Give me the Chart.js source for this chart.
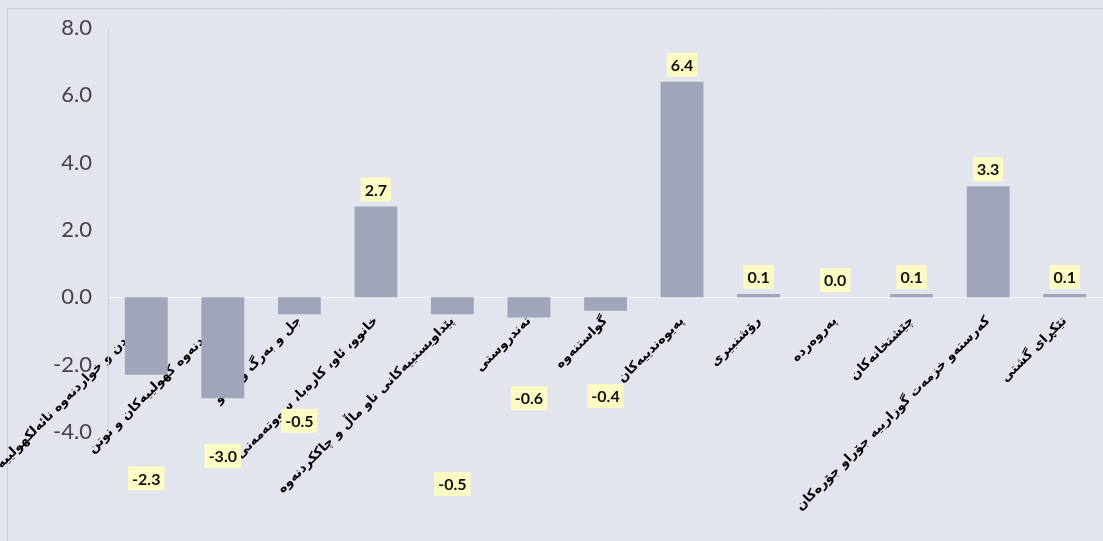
<!DOCTYPE html>
<html>
<head>
<meta charset="utf-8">
<script src="https://cdn.jsdelivr.net/npm/chart.js@4"></script>
<style>
  body { margin: 0; background: #e2e5ed; }
  #wrap { width: 1103px; height: 541px; }
</style>
</head>
<body>
<div id="wrap"><canvas id="grafico" width="1103" height="541"></canvas></div>
<script>
const categorias = [
  'خواردن و خواردنەوە نائەلکهولییەکان',
  'خواردنەوە کهولییەکان و توتن',
  'جل و بەرگ و پێلاو',
  'خانوو، ئاو، کارەبا، سووتەمەنی',
  'پێداویستییەکانی ناو ماڵ و چاککردنەوە',
  'تەندروستی',
  'گواستنەوە',
  'پەیوەندییەکان',
  'رۆشنبیری',
  'پەروەردە',
  'چێشتخانەکان',
  'کەرستەو خزمەت گوزارییە جۆراو جۆرەکان',
  'تێکڕای گشتی'
];
const valores = [-2.3, -3.0, -0.5, 2.7, -0.5, -0.6, -0.4, 6.4, 0.1, 0.0, 0.1, 3.3, 0.1];
const ejeY = { min: -4, max: 8, paso: 2 };

const fuenteCat = "bold 13px 'DejaVu Sans', sans-serif";
const fuenteVal = "bold 16px Lato, 'Liberation Sans', sans-serif";

const fondo = {
  id: 'fondo',
  beforeDraw(chart) {
    const c = chart.ctx;
    c.save();
    c.fillStyle = '#e2e5ed';
    c.fillRect(0, 0, chart.width, chart.height);
    c.strokeStyle = '#c9cdd7';
    c.lineWidth = 1;
    c.beginPath();
    c.moveTo(7.5, chart.height);
    c.lineTo(7.5, 8.5);
    c.lineTo(chart.width, 8.5);
    c.stroke();
    c.restore();
  }
};

// etiquetas de valor con fondo amarillo
const etiquetas = {
  id: 'etiquetas',
  afterDraw(chart) {
    const c = chart.ctx;
    const meta = chart.getDatasetMeta(0);
    const y0 = chart.scales.y.getPixelForValue(0);
    c.save();
    meta.data.forEach((bar, i) => {
      const v = valores[i];
      const txt = v.toFixed(1);
      let y;
      if (v >= 0) {
        y = bar.y - 17;
      } else {
        // debajo del texto girado de la categoria
        c.font = fuenteCat;
        const w = c.measureText(categorias[i]).width;
        y = Math.min(y0 + 65 + w * 0.5, chart.height - 22);
      }
      c.font = fuenteVal;
      const tw = c.measureText(txt).width;
      c.fillStyle = '#fdfbc4';
      c.fillRect(bar.x - tw / 2 - 4, y - 12, tw + 8, 24);
      c.fillStyle = '#111';
      c.textAlign = 'center';
      c.textBaseline = 'middle';
      c.fillText(txt, bar.x, y + 1);
    });
    c.restore();
  }
};

new Chart(document.getElementById('grafico'), {
  type: 'bar',
  data: {
    labels: categorias,
    datasets: [{
      data: valores,
      backgroundColor: '#a1a5b9',
      barPercentage: 0.56,
      categoryPercentage: 1.0
    }]
  },
  options: {
    responsive: false,
    animation: false,
    layout: { padding: { top: 28, bottom: 109, left: 8, right: 0 } },
    plugins: { legend: { display: false }, tooltip: { enabled: false } },
    scales: {
      x: {
        position: { y: 0 },
        grid: { display: false },
        border: { display: true, color: '#f3f4f8', width: 1 },
        ticks: {
          autoSkip: false,
          minRotation: 45,
          maxRotation: 45,
          color: '#000',
          font: { family: "'DejaVu Sans', sans-serif", size: 13, weight: 'bold' },
          padding: 8
        },
        afterFit(s) { s.paddingLeft = 0; s.paddingRight = 0; }
      },
      y: {
        min: ejeY.min,
        max: ejeY.max,
        grid: { display: false },
        border: { display: true, color: '#cdd1da', width: 1 },
        ticks: {
          stepSize: ejeY.paso,
          color: '#444444',
          padding: 8,
          font: { family: "Lato, 'Liberation Sans', sans-serif", size: 22 },
          callback: v => v.toFixed(1)
        },
        afterFit(s) { s.width = 100; }
      }
    }
  },
  plugins: [fondo, etiquetas]
});
</script>
</body>
</html>
